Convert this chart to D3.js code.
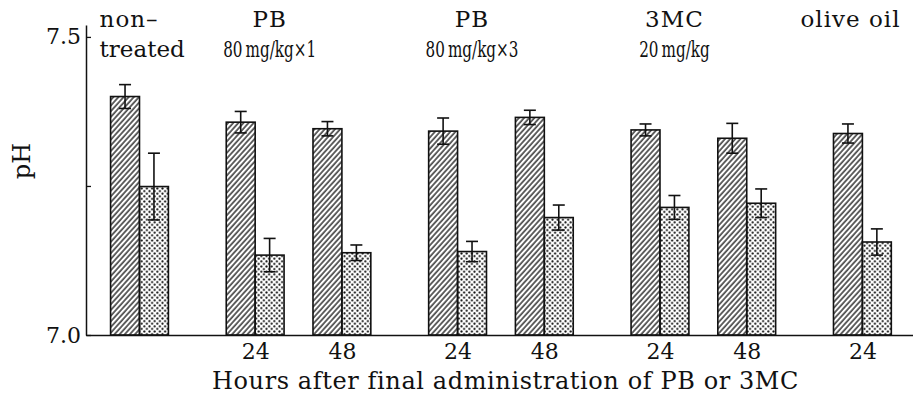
<!DOCTYPE html>
<html>
<head>
<meta charset="utf-8">
<script src="https://cdn.jsdelivr.net/npm/d3@7"></script>
<style>
  html, body { margin: 0; padding: 0; background: #fff; }
</style>
</head>
<body>
<div id="chart"></div>
<script>
// treatment groups, each label written in two lines
const groupLabels = [["non\u2013", "treated"], ["PB", "80\u2009mg/kg\u00d71"], ["PB", "80\u2009mg/kg\u00d73"], ["3MC", "20\u2009mg/kg"], ["olive oil", ""]];
// which group each bar pair belongs to, and its hours label
const pairGroup = [0, 1, 1, 2, 2, 3, 3, 4];
const pairHours = ["", "24", "48", "24", "48", "24", "48", "24"];
// hatched bars (mean, error)
const hatchedMean = [7.400, 7.357, 7.346, 7.342, 7.365, 7.344, 7.330, 7.338];
const hatchedErr = [0.020, 0.018, 0.012, 0.022, 0.012, 0.010, 0.025, 0.016];
// dotted bars (mean, error)
const dottedMean = [7.249, 7.134, 7.138, 7.140, 7.197, 7.214, 7.221, 7.156];
const dottedErr = [0.056, 0.028, 0.013, 0.017, 0.021, 0.020, 0.024, 0.022];
const yTicks = [7.0, 7.25, 7.5];
const yTickLabels = ["7.0", "", "7.5"];
const xTitle = "Hours after final administration of PB or 3MC";
const yTitle = "pH";

const width = 913;
const height = 407;
const ink = "#111";
const font = "DejaVu Serif";

// bar pairs laid out in units of one bar width: 2 bars, 1 unit gap, 1 more between groups
let u = 0;
const pairs = pairGroup.map((g, i) => {
  if (i > 0) u += (g !== pairGroup[i - 1]) ? 4 : 3;
  return {i, g, start: u, hours: pairHours[i]};
});
const lastUnit = u + 2;

const x = d3.scaleLinear().domain([-0.85, lastUnit + 0.75]).range([86, width]);
const y = d3.scaleLinear().domain([7.0, 7.52]).range([335, 25]);

const svg = d3.create("svg")
  .attr("width", width)
  .attr("height", height)
  .attr("viewBox", [0, 0, width, height])
  .attr("font-family", font)
  .attr("fill", ink);

const defs = svg.append("defs");
defs.append("pattern")
  .attr("id", "hatch")
  .attr("patternUnits", "userSpaceOnUse")
  .attr("width", 3.8)
  .attr("height", 3.8)
  .attr("patternTransform", "rotate(42)")
  .append("line")
  .attr("x1", 1).attr("y1", 0).attr("x2", 1).attr("y2", 3.8)
  .attr("stroke", ink)
  .attr("stroke-width", 1.3);
const dots = defs.append("pattern")
  .attr("id", "dots")
  .attr("patternUnits", "userSpaceOnUse")
  .attr("width", 5.2)
  .attr("height", 5.2);
dots.append("circle").attr("cx", 1.3).attr("cy", 1.3).attr("r", 1.05).attr("fill", ink);
dots.append("circle").attr("cx", 3.9).attr("cy", 3.9).attr("r", 1.05).attr("fill", ink);

const bars = [];
pairs.forEach(p => {
  bars.push({x0: p.start, mean: hatchedMean[p.i], err: hatchedErr[p.i], fill: "url(#hatch)"});
  bars.push({x0: p.start + 1, mean: dottedMean[p.i], err: dottedErr[p.i], fill: "url(#dots)"});
});

svg.append("g")
  .selectAll("rect")
  .data(bars)
  .join("rect")
  .attr("x", d => x(d.x0))
  .attr("y", d => y(d.mean))
  .attr("width", d => x(d.x0 + 1) - x(d.x0))
  .attr("height", d => y(7.0) - y(d.mean))
  .attr("fill", d => d.fill)
  .attr("stroke", ink)
  .attr("stroke-width", 1.6);

const cap = 6;
const eb = svg.append("g")
  .attr("stroke", ink)
  .attr("stroke-width", 1.6)
  .selectAll("g")
  .data(bars)
  .join("g")
  .attr("transform", d => `translate(${x(d.x0 + 0.5)},0)`);
eb.append("line")
  .attr("y1", d => y(d.mean + d.err))
  .attr("y2", d => y(d.mean - d.err));
eb.append("line")
  .attr("x1", -cap).attr("x2", cap)
  .attr("y1", d => y(d.mean + d.err))
  .attr("y2", d => y(d.mean + d.err));
eb.append("line")
  .attr("x1", -cap).attr("x2", cap)
  .attr("y1", d => y(d.mean - d.err))
  .attr("y2", d => y(d.mean - d.err));

// y axis with inward ticks
svg.append("g")
  .attr("transform", `translate(${x.range()[0]},0)`)
  .call(d3.axisLeft(y)
    .tickValues(yTicks)
    .tickFormat((d, i) => yTickLabels[i])
    .tickSizeInner(-5)
    .tickSizeOuter(0)
    .tickPadding(5))
  .attr("font-family", font)
  .attr("font-size", 22)
  .call(g => g.select(".domain").attr("stroke", ink).attr("stroke-width", 1.5))
  .call(g => g.selectAll(".tick line").attr("stroke", ink).attr("stroke-width", 1.3))
  .call(g => g.selectAll(".tick text").attr("fill", ink));

// x axis: hours under each pair
svg.append("g")
  .attr("transform", `translate(0,${y(7.0)})`)
  .call(d3.axisBottom(x)
    .tickValues(pairs.map(p => p.start + 1))
    .tickFormat((d, i) => pairs[i].hours)
    .tickSize(0)
    .tickPadding(8))
  .attr("font-family", font)
  .attr("font-size", 22)
  .call(g => g.select(".domain").attr("stroke", ink).attr("stroke-width", 1.5))
  .call(g => g.selectAll(".tick text").attr("fill", ink));

svg.append("text")
  .attr("x", 212)
  .attr("y", 389)
  .attr("font-size", 24)
  .style("letter-spacing", "0.6px")
  .text(xTitle);

svg.append("text")
  .attr("transform", "translate(30,161) rotate(-90)")
  .attr("text-anchor", "middle")
  .attr("font-size", 24)
  .text(yTitle);

// group labels above the bars
const groups = groupLabels.map((lines, g) => {
  const ps = pairs.filter(p => p.g === g);
  const a = ps[0].start, b = ps[ps.length - 1].start + 2;
  return {lines, a, b, single: ps.length === 1};
});
const gl = svg.append("g")
  .selectAll("text")
  .data(groups)
  .join("text")
  .attr("text-anchor", d => d.single ? "start" : "middle")
  .attr("x", (d, i) => d.single ? x(d.a) - (i === 0 ? 11 : 33) : x((d.a + d.b) / 2 - 1));
gl.selectAll("tspan")
  .data(d => d.lines)
  .join("tspan")
  .attr("x", function () { return this.parentNode.getAttribute("x"); })
  .attr("y", (d, i) => i === 0 ? 27 : 57)
  .attr("font-size", 23)
  .style("letter-spacing", (d, i) => i === 0 ? "1px" : "0px")
  .text(d => d);

document.getElementById("chart").appendChild(svg.node());

// the dose lines are set much tighter in the original: squeeze them
gl.each(function (d) {
  const t = d3.select(this).selectAll("tspan").filter((s, i) => i === 1 && /mg/.test(s));
  t.each(function () {
    const w = this.getComputedTextLength();
    d3.select(this).attr("textLength", w * 0.66).attr("lengthAdjust", "spacingAndGlyphs");
  });
});
</script>
</body>
</html>
